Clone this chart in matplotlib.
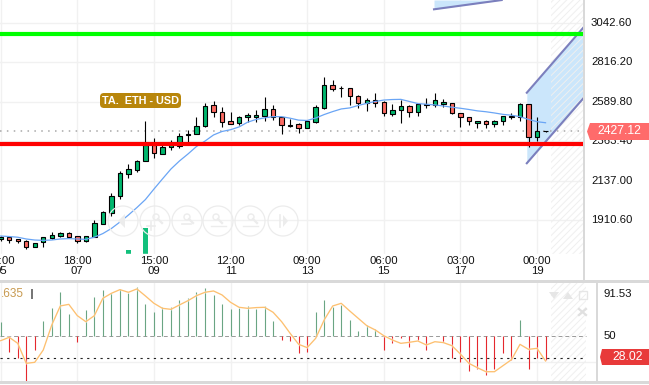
import matplotlib
matplotlib.use('Agg')
import matplotlib.pyplot as plt
from matplotlib.patches import Circle, Polygon, FancyBboxPatch, Rectangle

plt.rcParams['font.family'] = ['Liberation Sans', 'DejaVu Sans']
plt.rcParams['hatch.linewidth'] = 0.7

opens = [1809, 1820, 1806, 1799, 1761, 1790, 1816, 1828, 1842, 1824, 1796, 1822, 1893, 1960, 2055, 2183, 2206,
         2254, 2350, 2294, 2334, 2340, 2403, 2409, 2458, 2575, 2535, 2483, 2472, 2506, 2510, 2516, 2552, 2506,
         2456, 2466, 2447, 2479, 2561, 2689, 2674, 2672, 2626, 2586, 2604, 2594, 2527, 2550, 2569, 2538, 2578,
         2575, 2584, 2586, 2533, 2506, 2475, 2483, 2469, 2483, 2506, 2506, 2581, 2392, 2427]
highs = [1826, 1826, 1809, 1803, 1788, 1819, 1849, 1849, 1849, 1824, 1824, 1918, 1969, 2074, 2200, 2239, 2262,
         2487, 2386, 2346, 2376, 2415, 2433, 2506, 2586, 2600, 2564, 2537, 2514, 2529, 2548, 2621, 2577, 2506,
         2495, 2472, 2483, 2577, 2736, 2720, 2686, 2674, 2634, 2615, 2644, 2600, 2582, 2605, 2577, 2588, 2615,
         2644, 2609, 2590, 2533, 2506, 2487, 2489, 2491, 2512, 2529, 2586, 2583, 2506, 2430]
lows = [1797, 1786, 1786, 1753, 1761, 1765, 1811, 1822, 1819, 1788, 1790, 1822, 1893, 1941, 2036, 2158, 2195,
        2254, 2275, 2294, 2319, 2329, 2363, 2409, 2452, 2510, 2452, 2466, 2460, 2481, 2481, 2487, 2491, 2412,
        2452, 2418, 2447, 2475, 2555, 2659, 2624, 2578, 2561, 2544, 2567, 2515, 2515, 2475, 2510, 2514, 2558,
        2567, 2567, 2527, 2452, 2464, 2445, 2445, 2451, 2462, 2495, 2487, 2338, 2372, 2422]
closes = [1820, 1803, 1797, 1761, 1788, 1819, 1830, 1842, 1822, 1796, 1824, 1899, 1962, 2054, 2185, 2210, 2256,
          2346, 2300, 2334, 2346, 2399, 2409, 2458, 2573, 2535, 2481, 2466, 2506, 2518, 2518, 2552, 2506, 2462,
          2460, 2447, 2483, 2563, 2689, 2670, 2672, 2626, 2586, 2604, 2588, 2529, 2550, 2569, 2538, 2581, 2582,
          2604, 2592, 2533, 2506, 2483, 2483, 2469, 2483, 2512, 2512, 2581, 2392, 2426, 2427]
ma_line = [1826, 1823, 1819, 1809, 1803, 1801, 1803, 1809, 1811, 1809, 1807, 1819, 1840, 1869, 1906, 1946, 1989,
           2035, 2095, 2153, 2210, 2256, 2296, 2339, 2370, 2405, 2425, 2435, 2451, 2478, 2494, 2503, 2510, 2510,
           2501, 2490, 2488, 2502, 2522, 2539, 2554, 2560, 2574, 2586, 2597, 2605, 2608, 2609, 2597, 2585, 2581,
           2577, 2571, 2564, 2558, 2551, 2543, 2538, 2531, 2523, 2518, 2510, 2494, 2481, 2475]
rsi_bars = [64.3, 34.9, 28.4, 6.5, 36.9, 65.3, 77.4, 93.7, 71.6, 44.7, 75.5, 88.2, 95.7, 92.1, 96.4, 92.7, 98.6,
            81.4, 73.5, 78.4, 78.4, 85.6, 87.8, 93.1, 97.6, 90.5, 81.4, 76.8, 78, 79.7, 76.8, 79.7, 65, 46.4,
            45.7, 33.3, 34.9, 73.5, 85.6, 79, 80.7, 66, 55.2, 61.1, 56.9, 36.9, 43.4, 48.6, 39.8, 46.4, 36.9,
            50, 44.7, 28.4, 25.1, 16.3, 17.7, 12.1, 18, 33.3, 26.8, 66, 18, 28.4, 26.8]
rsi_line = [45.7, 49, 43.1, 23.5, 24.5, 36.6, 61.1, 79.7, 81.3, 70.2, 64.3, 70.2, 87.2, 92.1, 95.7, 93.1, 96.4,
            89.5, 82.3, 77.4, 76.4, 80.7, 84.9, 89.8, 93.1, 94.4, 90.5, 83.3, 78.4, 77.4, 78.1, 78.4, 73.5, 64.3,
            52.9, 42.1, 38.9, 48, 66, 79.7, 82.3, 74.8, 67.6, 60.4, 56.2, 50.6, 46.4, 43.1, 44.1, 45.4, 41.5,
            44.7, 43.8, 40.8, 32.6, 23.5, 19.2, 15.3, 15.3, 21.2, 27.1, 42.1, 37.2, 38.2, 25.8]

price_ticks = [3042.60, 2816.20, 2589.80, 2363.40, 2137.00, 1910.60]
time_idx = [0, 9, 18, 27, 36, 45, 54, 63]
time_labels = ['21:00\n05', '18:00\n07', '15:00\n09', '12:00\n11', '09:00\n13', '06:00\n15', '03:00\n17', '00:00\n19']
support = 2353.2
resistance = 2985.2
last_price = 2427.12
vol_idx = [15, 17]
vol_top = [1746, 1872]
vol_base = 1723
chan_x = [61.8, 68.6]
chan_upper = [2647, 3029]
chan_lower = [2243, 2624]
chan_top_x = [50.9, 58.85]
chan_top_y = [3125, 3178]

GRID = '#f1f1f1'
BAND = '#d9d9d9'
W, H = 649, 385
fig = plt.figure(figsize=(W / 100, H / 100), dpi=100)


def box(x0, y0, x1, y1):
    return [x0 / W, 1 - y1 / H, (x1 - x0) / W, (y1 - y0) / H]


def idx_lim(px):
    return (px - 0.7) / 8.513


# price panel
ax = fig.add_axes(box(0, 0, 584, 281))
ax.set_xlim(idx_lim(0), idx_lim(584))
ax.set_ylim(1568.2, 3178.3)
ax.axis('off')
for t in time_idx:
    ax.axvline(t, color=GRID, lw=1, zorder=0)
for p in price_ticks:
    ax.axhline(p + 6, color=GRID, lw=1, zorder=0)

ax.fill_between(chan_x, chan_lower, chan_upper, color='#cbe6fb', lw=0, zorder=1)
ax.fill_between(chan_top_x, chan_top_y, 3178.3, color='#cbe6fb', lw=0, zorder=1)
ax.axvspan(idx_lim(551), idx_lim(584), facecolor='none', edgecolor='#efefef', hatch='/////', lw=0, zorder=1.5)
for ys in (chan_upper, chan_lower):
    ax.plot(chan_x, ys, color='#7b7fbd', lw=1.5, zorder=2)
ax.plot(chan_top_x, chan_top_y, color='#7b7fbd', lw=1.5, zorder=2)

ax.bar(vol_idx, [t - vol_base for t in vol_top], bottom=vol_base, width=0.5, color='#12c07c', zorder=2)
ax.axhline(last_price, color='#a8a8a8', lw=1.1, ls=(0, (1, 3.5)), zorder=2)

for i in range(len(opens)):
    up = closes[i] >= opens[i]
    ax.vlines(i, lows[i], highs[i], color='black', lw=0.8, zorder=3)
    ax.bar(i, max(abs(closes[i] - opens[i]), 3), bottom=min(opens[i], closes[i]), width=0.52,
           color='#00b76e' if up else '#fa6a62', edgecolor='black', lw=0.8, zorder=4)

ax.plot(range(len(ma_line)), ma_line, color='#6aa5f5', lw=0.9, zorder=5)
ax.axhline(resistance, color='#00ff00', lw=3, zorder=6)
ax.axhline(support, color='#ff0000', lw=3, zorder=6)

# rsi panel
ax2 = fig.add_axes(box(0, 283, 597, 381))
ax2.set_xlim(idx_lim(0), idx_lim(597))
ax2.set_ylim(6.2, 102.2)
ax2.axis('off')
for t in time_idx:
    ax2.axvline(t, color=GRID, lw=1, zorder=0)
ax2.axhline(25, color=GRID, lw=1, zorder=0)
ax2.axvspan(idx_lim(551), idx_lim(586), facecolor='none', edgecolor='#efefef', hatch='/////', lw=0, zorder=0.5)
ax2.hlines(50, idx_lim(0), idx_lim(586), color='#999999', lw=0.7, ls=(0, (4, 3)), zorder=1)
ax2.hlines(28.4, idx_lim(0), idx_lim(586), color='#222222', lw=0.8, ls=(0, (2, 4)), zorder=1)
for i, v in enumerate(rsi_bars):
    ax2.vlines(i, 50, v, color='#6aa583' if v > 50 else '#e5282e', lw=0.8, zorder=2)
ax2.plot(range(len(rsi_line)), rsi_line, color='#ffffff', alpha=0.45, lw=2.2, zorder=3)
ax2.plot(range(len(rsi_line)), rsi_line, color='#fdc070', lw=0.95, zorder=4)

# chrome drawn in pixel space on top
ov = fig.add_axes([0, 0, 1, 1], zorder=10)
ov.set_xlim(0, W)
ov.set_ylim(H, 0)
ov.axis('off')
ov.patch.set_alpha(0)

ov.add_patch(Rectangle((0, 254), 584, 26, color='white', zorder=1))
for t, lab in zip(time_idx, time_labels):
    a, b = lab.split('\n')
    x = 0.7 + 8.513 * t
    ov.text(x, 261, a, ha='center', va='center', fontsize=8.2, color='#111111', zorder=2)
    ov.text(x, 271.5, b, ha='center', va='center', fontsize=8.2, color='#111111', zorder=2)

ov.add_patch(Rectangle((0, 279.5), W, 3, color=BAND, lw=0, zorder=2))
ov.add_patch(Rectangle((0, 381), W, 3, color=BAND, lw=0, zorder=2))
ov.add_patch(Rectangle((582.5, 0), 2.5, 280, color=BAND, lw=0, zorder=2))
ov.add_patch(Rectangle((595.5, 281), 2.5, 100, color=BAND, lw=0, zorder=2))

for p in price_ticks:
    y = 102.7 + (2589.8 - p) / 5.73 - 0.8
    ov.text(591, y, '%.2f' % p, ha='left', va='center', fontsize=8.2, color='#111111', zorder=3)
ov.text(604, 294, '91.53', ha='left', va='center', fontsize=8.2, color='#111111', zorder=3)
ov.text(604, 336.3, '50', ha='left', va='center', fontsize=8.2, color='#111111', zorder=3)

ov.add_patch(Polygon([(587, 131.5), (590, 123), (649, 123), (649, 140), (590, 140)], color='#ff6b6b', lw=0, zorder=4))
ov.text(619, 131.5, '2427.12', ha='center', va='center', fontsize=8.8, color='white', zorder=5)
ov.add_patch(Polygon([(600, 357), (602, 349), (649, 349), (649, 365), (602, 365)], color='#e83a3a', lw=0, zorder=4))
ov.text(628, 357, '28.02', ha='center', va='center', fontsize=8.8, color='white', zorder=5)

ov.add_patch(FancyBboxPatch((102, 95), 77, 11, boxstyle='round,pad=2,rounding_size=4', color='#b8860b', lw=0, zorder=4))
ov.text(140.5, 100.5, 'TA.  ETH - USD', ha='center', va='center', fontsize=7.8, color='white', fontweight='bold', zorder=5)

ov.text(1, 294, '.635', ha='left', va='center', fontsize=8.5, color='#c89a50', zorder=5)
ov.add_patch(Rectangle((31, 289), 2, 10, color='#777777', lw=0, zorder=5))

# zoom and scroll buttons
FAINT = '#ececec'
for cx in [123, 155, 187, 218, 250, 283]:
    ov.add_patch(Circle((cx, 221), 15, fill=False, ec=FAINT, lw=0.9, zorder=5))
ov.add_patch(Polygon([(118, 221), (125, 214), (125, 228)], color=FAINT, lw=0, zorder=5))
ov.add_patch(Polygon([(288, 221), (283, 215), (283, 227)], color=FAINT, lw=0, zorder=5))
ov.plot([280, 280], [215, 227], color=FAINT, lw=1.2, zorder=5)
for cx in [156, 187, 216, 251]:
    ov.add_patch(Circle((cx, 217), 3, fill=False, ec=FAINT, lw=1, zorder=5))
    ov.plot([cx + 2, cx + 6], [219, 223], color=FAINT, lw=1.6, zorder=5)
ov.plot([147, 155], [226, 226], color=FAINT, lw=1.2, zorder=5)
ov.plot([151, 151], [222, 230], color=FAINT, lw=1.2, zorder=5)
ov.plot([182, 191], [224, 224], color=FAINT, lw=1.2, zorder=5)
ov.plot([211, 226], [226, 226], color=FAINT, lw=1, zorder=5)
ov.plot([243, 258], [226, 226], color=FAINT, lw=1, zorder=5)

# small icons at top right of rsi panel
ov.add_patch(Polygon([(549, 292), (559, 292), (554, 299)], color='#e6e6e6', lw=0, zorder=5))
ov.add_patch(Polygon([(563, 299), (573, 299), (568, 292)], color='#e6e6e6', lw=0, zorder=5))
ov.add_patch(Rectangle((578.5, 291), 8, 8, fill=False, ec='#e6e6e6', lw=1, zorder=5))
ov.plot([579, 586], [309, 315], color='#e0e0e0', lw=1.6, zorder=5)
ov.plot([579, 586], [315, 309], color='#e0e0e0', lw=1.6, zorder=5)

fig.savefig('out.png', dpi=100)
